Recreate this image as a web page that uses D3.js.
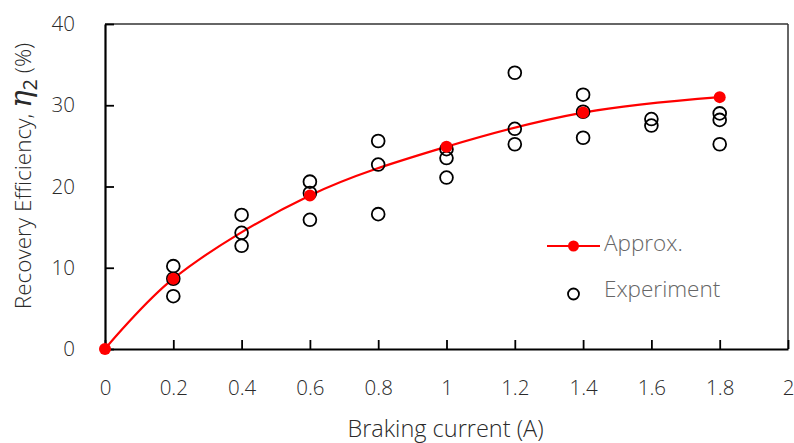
<!DOCTYPE html>
<html>
<head>
<meta charset="utf-8">
<script src="https://cdn.jsdelivr.net/npm/d3@7"></script>
<style>
  body { margin: 0; background: #fff; }
  text { font-family: "Open Sans", "Noto Sans", sans-serif; font-weight: 300; }
</style>
</head>
<body>
<svg id="chart" width="794" height="443"></svg>
<script>
// approximation curve points
var approxX = [0, 0.2, 0.6, 1.0, 1.4, 1.8];
var approxY = [0, 8.65, 18.9, 24.9, 29.1, 31.0];

// experiment measurements
var expX = [0.2, 0.2, 0.2, 0.4, 0.4, 0.4, 0.6, 0.6, 0.6, 0.8, 0.8, 0.8,
            1.0, 1.0, 1.0, 1.2, 1.2, 1.2, 1.4, 1.4, 1.4, 1.6, 1.6, 1.8, 1.8, 1.8];
var expY = [10.2, 8.65, 6.5, 16.5, 14.3, 12.7, 20.6, 19.2, 15.9, 25.6, 22.7, 16.6,
            24.6, 23.5, 21.1, 34.0, 27.1, 25.2, 31.3, 29.2, 26.0, 28.3, 27.5, 29.0, 28.2, 25.2];

var xTicks = [0, 0.2, 0.4, 0.6, 0.8, 1, 1.2, 1.4, 1.6, 1.8, 2];
var yTicks = [0, 10, 20, 30, 40];

var margin = {top: 24, right: 6, bottom: 94, left: 105};
var width = 794 - margin.left - margin.right;
var height = 443 - margin.top - margin.bottom;

var svg = d3.select("#chart");
var g = svg.append("g").attr("transform", "translate(" + margin.left + "," + margin.top + ")");

var x = d3.scaleLinear().domain([0, 2]).range([0, width]);
var y = d3.scaleLinear().domain([0, 40]).range([height, 0]);

// frame top / right
g.append("line").attr("x1", 0).attr("x2", width).attr("y1", 0).attr("y2", 0)
  .attr("stroke", "#333").attr("stroke-width", 1.5);
g.append("line").attr("x1", width).attr("x2", width).attr("y1", 0).attr("y2", height)
  .attr("stroke", "#333").attr("stroke-width", 1.5);

var xAxis = g.append("g").attr("transform", "translate(0," + height + ")")
  .call(d3.axisBottom(x).tickValues(xTicks).tickSizeInner(-9).tickSizeOuter(0)
    .tickPadding(31).tickFormat(d3.format("")));
var yAxis = g.append("g")
  .call(d3.axisLeft(y).tickValues(yTicks).tickSizeInner(-9).tickSizeOuter(0).tickPadding(30));

[xAxis, yAxis].forEach(function(a) {
  a.select(".domain").attr("stroke", "#000").attr("stroke-width", 2.2);
  a.selectAll(".tick line").attr("stroke", "#000").attr("stroke-width", 1.8);
  a.selectAll(".tick text").attr("fill", "#2a2a2a").style("font-size", "20.5px");
});

// axis titles
svg.append("text")
  .attr("x", margin.left + width / 2 - 1).attr("y", 437)
  .attr("text-anchor", "middle").attr("fill", "#2a2a2a").style("font-size", "23.5px")
  .text("Braking current (A)");

var yt = svg.append("text")
  .attr("transform", "translate(31," + 176 + ") rotate(-90)")
  .attr("text-anchor", "middle").attr("fill", "#2a2a2a").style("font-size", "22.5px");
yt.append("tspan").text("Recovery Efficiency, ");
yt.append("tspan").style("font-family", "DejaVu Serif, serif").style("font-style", "italic")
  .style("font-size", "29px").style("font-weight", "400").text("\u03B7");
yt.append("tspan").attr("dy", 6).style("font-size", "20px").style("font-weight", "400").text("2");
yt.append("tspan").attr("dy", -6).text(" (%)");

// approx curve
var approx = approxX.map(function(v, i) { return {x: v, y: approxY[i]}; });
var line = d3.line()
  .x(function(d) { return x(d.x); })
  .y(function(d) { return y(d.y); })
  .curve(d3.curveCatmullRom.alpha(0.5));

g.append("path").datum(approx)
  .attr("fill", "none").attr("stroke", "#ff0000").attr("stroke-width", 2.2)
  .attr("d", line);

// experiment circles
var exp = expX.map(function(v, i) { return {x: v, y: expY[i]}; });
g.selectAll(".exp").data(exp).enter().append("circle")
  .attr("class", "exp")
  .attr("cx", function(d) { return x(d.x); })
  .attr("cy", function(d) { return y(d.y); })
  .attr("r", 6.4)
  .attr("fill", "none").attr("stroke", "#000").attr("stroke-width", 1.8);

g.selectAll(".apx").data(approx).enter().append("circle")
  .attr("class", "apx")
  .attr("cx", function(d) { return x(d.x); })
  .attr("cy", function(d) { return y(d.y); })
  .attr("r", 6)
  .attr("fill", "#ff0000");

// legend
var lg = svg.append("g").attr("transform", "translate(547,246)");
lg.append("line").attr("x1", 0).attr("x2", 53).attr("y1", 0).attr("y2", 0)
  .attr("stroke", "#ff0000").attr("stroke-width", 2.2);
lg.append("circle").attr("cx", 26.5).attr("cy", 0).attr("r", 5.5).attr("fill", "#ff0000");
lg.append("text").attr("x", 57).attr("y", 5).attr("fill", "#666").style("font-size", "22.5px").text("Approx.");
lg.append("circle").attr("cx", 26.5).attr("cy", 48).attr("r", 5.5)
  .attr("fill", "none").attr("stroke", "#000").attr("stroke-width", 1.8);
lg.append("text").attr("x", 57).attr("y", 51).attr("fill", "#666").style("font-size", "22.5px").text("Experiment");
</script>
</body>
</html>
